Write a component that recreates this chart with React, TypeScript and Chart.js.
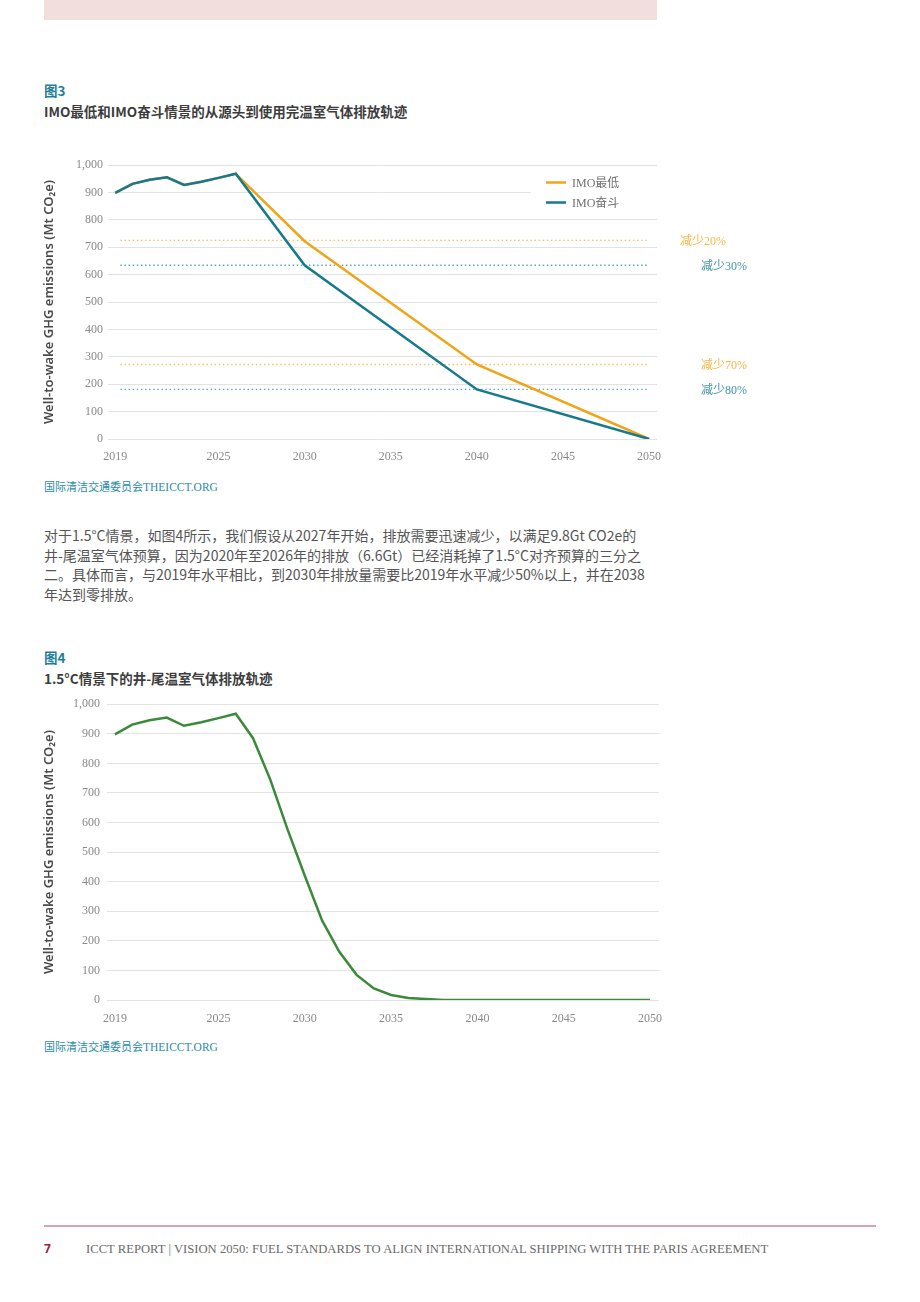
import React, { useEffect, useLayoutEffect, useRef } from "react";
import { Chart, registerables } from "chart.js";

Chart.register(...registerables);

// ---------- DATA ----------
const historyYears = [2019, 2020, 2021, 2022, 2023, 2024, 2025, 2026];
const historyValues = [898, 931, 946, 955, 927, 939, 953, 968];
const scenarioYears = [2030, 2040, 2050];
const imoMinimumValues = [722, 272, 0];
const imoStrivingValues = [634, 181, 0];
const reductionLevels = [725, 634, 272, 181];
const reductionLabels = ["减少20%", "减少30%", "减少70%", "减少80%"];
const reductionSpan = [2019.3, 2049.9];
const xTickValues = [2019, 2025, 2030, 2035, 2040, 2045, 2050];
const legendLabels = ["IMO最低", "IMO奋斗"];

const fig4Years = [
  2019, 2020, 2021, 2022, 2023, 2024, 2025, 2026, 2027, 2028, 2029, 2030, 2031, 2032, 2033, 2034,
  2035, 2036, 2037, 2038, 2039, 2040, 2041, 2042, 2043, 2044, 2045, 2046, 2047, 2048, 2049, 2050,
];
const fig4Values = [
  898, 931, 946, 955, 927, 939, 953, 968, 885, 745, 577, 420, 269, 163, 85, 39,
  17, 7, 3, 0, 0, 0, 0, 0, 0, 0, 0, 0, 0, 0, 0, 0,
];

// ---------- STYLE ----------
const ORANGE = "#f0a417";
const TEAL = "#17798c";
const GREEN = "#3b8a3a";
const ORANGE_DOT = "#f5c266";
const TEAL_DOT = "#56adc2";
const ORANGE_LABEL = "#f3b947";
const TEAL_LABEL = "#3f95aa";
const GRID = "#e3e3e3";
const TICK = "#8a8a8a";
const SERIF = "'Liberation Serif', 'Noto Sans CJK SC', serif";
const CJK = "'Noto Sans CJK SC', 'Noto Sans', sans-serif";
const AXIS_TITLE = "Well-to-wake GHG emissions (Mt CO₂e)";

const toPts = (xs: number[], ys: number[]) => xs.map((x, i) => ({ x, y: ys[i] }));

function makeScales(opts: {
  yWidth: number;
  xHeight: number;
  xMin: number;
  xMax: number;
  yPad: number;
  xPad: number;
}) {
  return {
    x: {
      type: "linear" as const,
      min: opts.xMin,
      max: opts.xMax,
      afterBuildTicks: (s: any) => {
        s.ticks = xTickValues.map((v) => ({ value: v }));
      },
      afterFit: (s: any) => {
        s.height = opts.xHeight;
      },
      grid: { display: false, drawTicks: false },
      border: { display: false },
      ticks: {
        autoSkip: false,
        maxRotation: 0,
        padding: opts.xPad,
        color: TICK,
        font: { family: SERIF, size: 12 },
        callback: (v: any) => String(v),
      },
    },
    y: {
      min: 0,
      max: 1000,
      afterFit: (s: any) => {
        s.width = opts.yWidth;
      },
      grid: { color: GRID, lineWidth: 1, drawTicks: false },
      border: { display: false },
      ticks: {
        stepSize: 100,
        padding: opts.yPad,
        color: TICK,
        font: { family: SERIF, size: 12 },
        callback: (v: any) => Number(v).toLocaleString("en-US"),
      },
      title: {
        display: true,
        text: AXIS_TITLE,
        color: "#4a4a4a",
        font: { family: "'Noto Sans', sans-serif", size: 13, weight: "600" as any },
        padding: { top: 1.5, bottom: 0 },
      },
    },
  };
}

const fig3Extras = {
  id: "fig3Extras",
  afterDraw(chart: any) {
    const { ctx, chartArea, scales } = chart;
    ctx.save();
    // legend box
    const bx = chartArea.right - 126;
    const by = chartArea.top + 6;
    ctx.fillStyle = "#ffffff";
    ctx.fillRect(bx, by, 135, 42);
    const items = [
      { label: legendLabels[0], color: ORANGE },
      { label: legendLabels[1], color: TEAL },
    ];
    items.forEach((it, i) => {
      const y = chartArea.top + 17.5 + i * 20;
      ctx.strokeStyle = it.color;
      ctx.lineWidth = 2.5;
      ctx.beginPath();
      ctx.moveTo(bx + 15, y);
      ctx.lineTo(bx + 35, y);
      ctx.stroke();
      ctx.fillStyle = "#707070";
      ctx.font = `12px ${SERIF}`;
      ctx.textAlign = "left";
      ctx.textBaseline = "middle";
      ctx.fillText(it.label, bx + 41, y + 1);
    });
    // reduction labels
    const offsets = [69, 90, 90, 90];
    const colors = [ORANGE_LABEL, TEAL_LABEL, ORANGE_LABEL, TEAL_LABEL];
    reductionLevels.forEach((lvl, i) => {
      const y = scales.y.getPixelForValue(lvl);
      ctx.fillStyle = colors[i];
      ctx.font = `12px ${SERIF}`;
      ctx.textAlign = "right";
      ctx.textBaseline = "middle";
      ctx.fillText(reductionLabels[i], chartArea.right + offsets[i], y + 1.5);
    });
    ctx.restore();
  },
};

function Fig3() {
  const ref = useRef<HTMLCanvasElement>(null);
  useEffect(() => {
    const dotColors = [ORANGE_DOT, TEAL_DOT, ORANGE_DOT, TEAL_DOT];
    const dotted = reductionLevels.map((lvl, i) => ({
      data: reductionSpan.map((x) => ({ x, y: lvl })),
      borderColor: dotColors[i],
      borderWidth: 1.4,
      borderDash: [1.5, 2.6],
      pointRadius: 0,
      order: 5,
    }));
    const chart = new Chart(ref.current!, {
      type: "line",
      data: {
        datasets: [
          {
            data: toPts([...historyYears, ...scenarioYears], [...historyValues, ...imoStrivingValues]),
            borderColor: TEAL,
            borderWidth: 2.5,
            pointRadius: 0,
            order: 1,
          },
          {
            data: toPts([...historyYears, ...scenarioYears], [...historyValues, ...imoMinimumValues]),
            borderColor: ORANGE,
            borderWidth: 2.5,
            pointRadius: 0,
            order: 2,
          },
          ...dotted,
        ] as any,
      },
      options: {
        responsive: false,
        animation: false,
        devicePixelRatio: 1,
        layout: { padding: { top: 15, right: 103, left: 0, bottom: 0 } },
        plugins: { legend: { display: false }, tooltip: { enabled: false } },
        scales: makeScales({ yWidth: 68, xHeight: 33, xMin: 2018.58, xMax: 2050.46, yPad: 5, xPad: 11 }) as any,
      },
      plugins: [fig3Extras],
    });
    return () => chart.destroy();
  }, []);
  return (
    <canvas
      ref={ref}
      width={720}
      height={322}
      style={{ position: "absolute", left: 40, top: 150, width: 720, height: 322 }}
    />
  );
}

function Fig4() {
  const ref = useRef<HTMLCanvasElement>(null);
  useEffect(() => {
    const chart = new Chart(ref.current!, {
      type: "line",
      data: {
        datasets: [
          {
            data: toPts(fig4Years, fig4Values),
            borderColor: GREEN,
            borderWidth: 2.5,
            pointRadius: 0,
          },
        ],
      },
      options: {
        responsive: false,
        animation: false,
        devicePixelRatio: 1,
        layout: { padding: { top: 12.5, right: 31, left: 0, bottom: 0 } },
        plugins: { legend: { display: false }, tooltip: { enabled: false } },
        scales: makeScales({ yWidth: 67, xHeight: 32, xMin: 2018.54, xMax: 2050.52, yPad: 7, xPad: 12 }) as any,
      },
    });
    return () => chart.destroy();
  }, []);
  return (
    <canvas
      ref={ref}
      width={650}
      height={342}
      style={{ position: "absolute", left: 40, top: 690, width: 650, height: 342 }}
    />
  );
}

const abs = (left: number, top: number, extra: React.CSSProperties = {}): React.CSSProperties => ({
  position: "absolute",
  left,
  top,
  whiteSpace: "nowrap",
  margin: 0,
  ...extra,
});

function Source({ top }: { top: number }) {
  return (
    <div style={abs(44, top, { fontSize: 11, lineHeight: "14px", color: "#2a8ca6" })}>
      <span style={{ fontFamily: CJK }}>国际清洁交通委员会</span>
      <span style={{ fontFamily: SERIF, fontSize: 11.5 }}>THEICCT.ORG</span>
    </div>
  );
}

function Footer() {
  const ref = useRef<HTMLSpanElement>(null);
  useLayoutEffect(() => {
    const el = ref.current;
    if (!el) return;
    const w = el.offsetWidth;
    if (w > 0) el.style.transform = `scaleX(${682 / w})`;
  }, []);
  return (
    <>
      <div style={abs(44, 1225, { width: 832, height: 1.5, background: "#d9a3b3" })} />
      <div
        style={abs(44, 1241, {
          fontFamily: "'Noto Sans', sans-serif",
          fontWeight: 700,
          fontSize: 12,
          lineHeight: "16px",
          color: "#a3193c",
        })}
      >
        7
      </div>
      <span
        ref={ref}
        style={abs(86, 1241, {
          fontFamily: SERIF,
          fontSize: 12,
          lineHeight: "16px",
          color: "#6a6a6a",
          transformOrigin: "left center",
          display: "inline-block",
        })}
      >
        ICCT REPORT | VISION 2050: FUEL STANDARDS TO ALIGN INTERNATIONAL SHIPPING WITH THE PARIS AGREEMENT
      </span>
    </>
  );
}

export default function App() {
  const figLabel: React.CSSProperties = {
    fontFamily: CJK,
    fontWeight: 700,
    fontSize: 13.5,
    lineHeight: "16px",
    color: "#1f7f98",
  };
  const figTitle: React.CSSProperties = {
    fontFamily: CJK,
    fontWeight: 700,
    fontSize: 13.5,
    lineHeight: "16px",
    color: "#3d3d3d",
  };
  return (
    <div style={{ position: "absolute", left: 0, top: 0, width: 920, height: 1302, background: "#fff", overflow: "hidden" }}>
      <div style={abs(44, 0, { width: 613, height: 20, background: "#f3dede" })} />
      <div style={abs(44, 82, figLabel)}>图3</div>
      <div style={abs(44, 103, figTitle)}>IMO最低和IMO奋斗情景的从源头到使用完温室气体排放轨迹</div>
      <Fig3 />
      <Source top={479} />
      <div
        style={abs(44, 526, {
          fontFamily: CJK,
          fontSize: 14,
          lineHeight: "19.7px",
          color: "#555555",
        })}
      >
        对于1.5°C情景，如图4所示，我们假设从2027年开始，排放需要迅速减少，以满足9.8Gt CO2e的
        <br />
        井-尾温室气体预算，因为2020年至2026年的排放（6.6Gt）已经消耗掉了1.5°C对齐预算的三分之
        <br />
        二。具体而言，与2019年水平相比，到2030年排放量需要比2019年水平减少50%以上，并在2038
        <br />
        年达到零排放。
      </div>
      <div style={abs(44, 649, figLabel)}>图4</div>
      <div style={abs(44, 670, figTitle)}>1.5°C情景下的井-尾温室气体排放轨迹</div>
      <Fig4 />
      <Source top={1039} />
      <Footer />
    </div>
  );
}
